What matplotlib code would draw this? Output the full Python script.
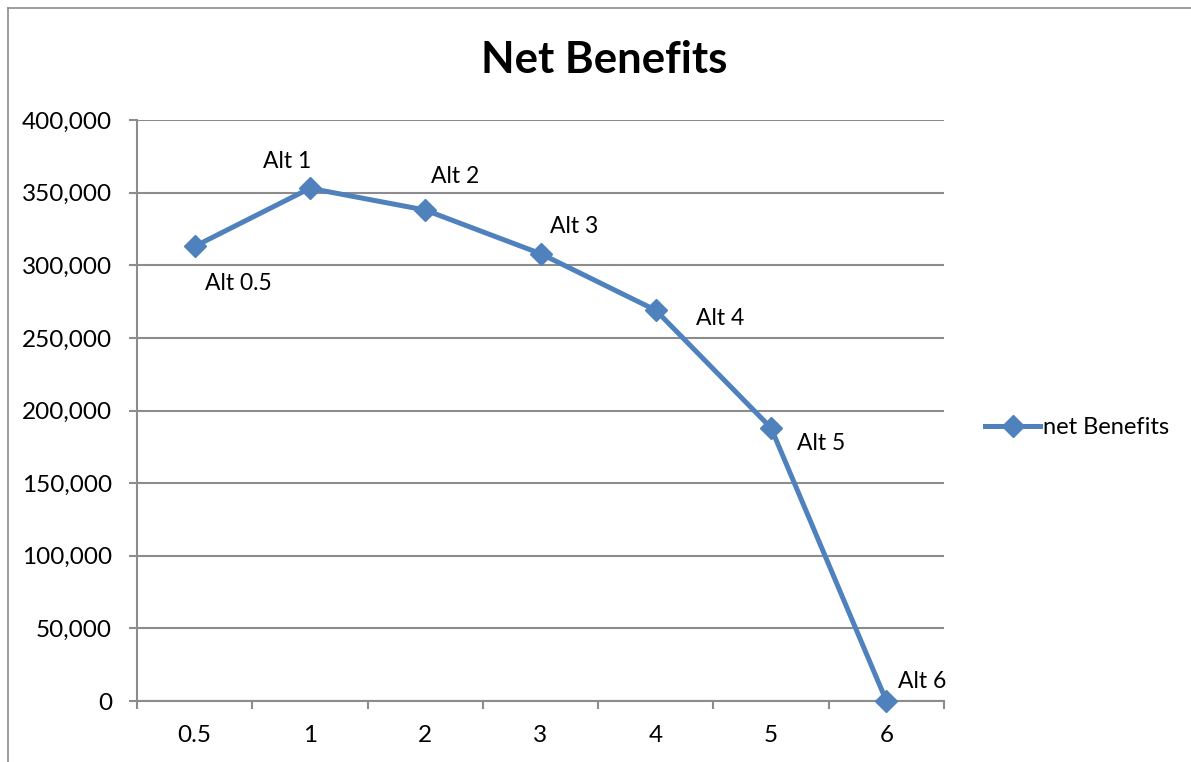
import matplotlib.pyplot as plt
from matplotlib.lines import Line2D
from matplotlib.ticker import FuncFormatter, FixedLocator

plt.rcParams['font.family'] = ['Lato', 'DejaVu Sans']

categories = ["0.5", "1", "2", "3", "4", "5", "6"]
netBenefits = [313000, 353000, 338000, 308000, 269000, 188000, 0]
pointLabels = ["Alt 0.5", "Alt 1", "Alt 2", "Alt 3", "Alt 4", "Alt 5", "Alt 6"]
# label offsets in pixels (dx, dy), screen direction
labelOffsets = [(44, -37), (-23, 27), (30, 34), (34, 27), (64, -8), (50, -16), (36, 20)]

lineColor = "#4F81BD"
gridColor = "#8C8C8C"

fig = plt.figure(figsize=(11.91, 7.62), dpi=100)
ax = fig.add_axes([137 / 1191, 1 - 701 / 762, (944 - 137) / 1191, (701 - 120) / 762])

xs = list(range(len(categories)))
line, = ax.plot(xs, netBenefits, color=lineColor, linewidth=3.6,
                marker='D', markersize=11, label='net Benefits', clip_on=False, zorder=5)

for x, y, text, (dx, dy) in zip(xs, netBenefits, pointLabels, labelOffsets):
    ax.annotate(text, (x, y), xytext=(dx, dy), textcoords='offset pixels',
                ha='center', va='center', fontsize=16.5, color='black')

ax.set_xlim(-0.5, len(categories) - 0.5)
ax.set_ylim(0, 400000)
ax.set_yticks(range(0, 400001, 50000))
ax.yaxis.set_major_formatter(FuncFormatter(lambda v, p: f"{int(v):,}"))
ax.yaxis.grid(True, color=gridColor, linewidth=1.5)
ax.set_axisbelow(True)

ax.set_xticks(xs)
ax.set_xticklabels(categories)
ax.xaxis.set_minor_locator(FixedLocator([i - 0.5 for i in range(len(categories) + 1)]))
ax.tick_params(axis='x', which='major', length=0, pad=17, labelsize=17.5)
ax.tick_params(axis='x', which='minor', length=6, width=1.5, color=gridColor, direction='out')
ax.tick_params(axis='y', length=6, width=1.5, color=gridColor, pad=12, labelsize=17.5)

for side in ['top', 'right']:
    ax.spines[side].set_visible(False)
for side in ['left', 'bottom']:
    ax.spines[side].set_color(gridColor)
    ax.spines[side].set_linewidth(1.5)

fig.text(604 / 1191, 1 - 60 / 762, "Net Benefits", ha='center', va='center',
         fontsize=31.5, fontweight='bold')

fig.legend(handles=[line], loc='center left', bbox_to_anchor=(985 / 1191, 1 - 428 / 762),
           frameon=False, fontsize=17, handlelength=2.35, handletextpad=0.1,
           borderaxespad=0, borderpad=0)

# outer chart border
fig.add_artist(Line2D([8 / 1191, 8 / 1191], [0, 1 - 8 / 762], color=gridColor, linewidth=1.2))
fig.add_artist(Line2D([8 / 1191, 1], [1 - 8 / 762, 1 - 8 / 762], color=gridColor, linewidth=1.2))

fig.savefig("out.png", dpi=100)
